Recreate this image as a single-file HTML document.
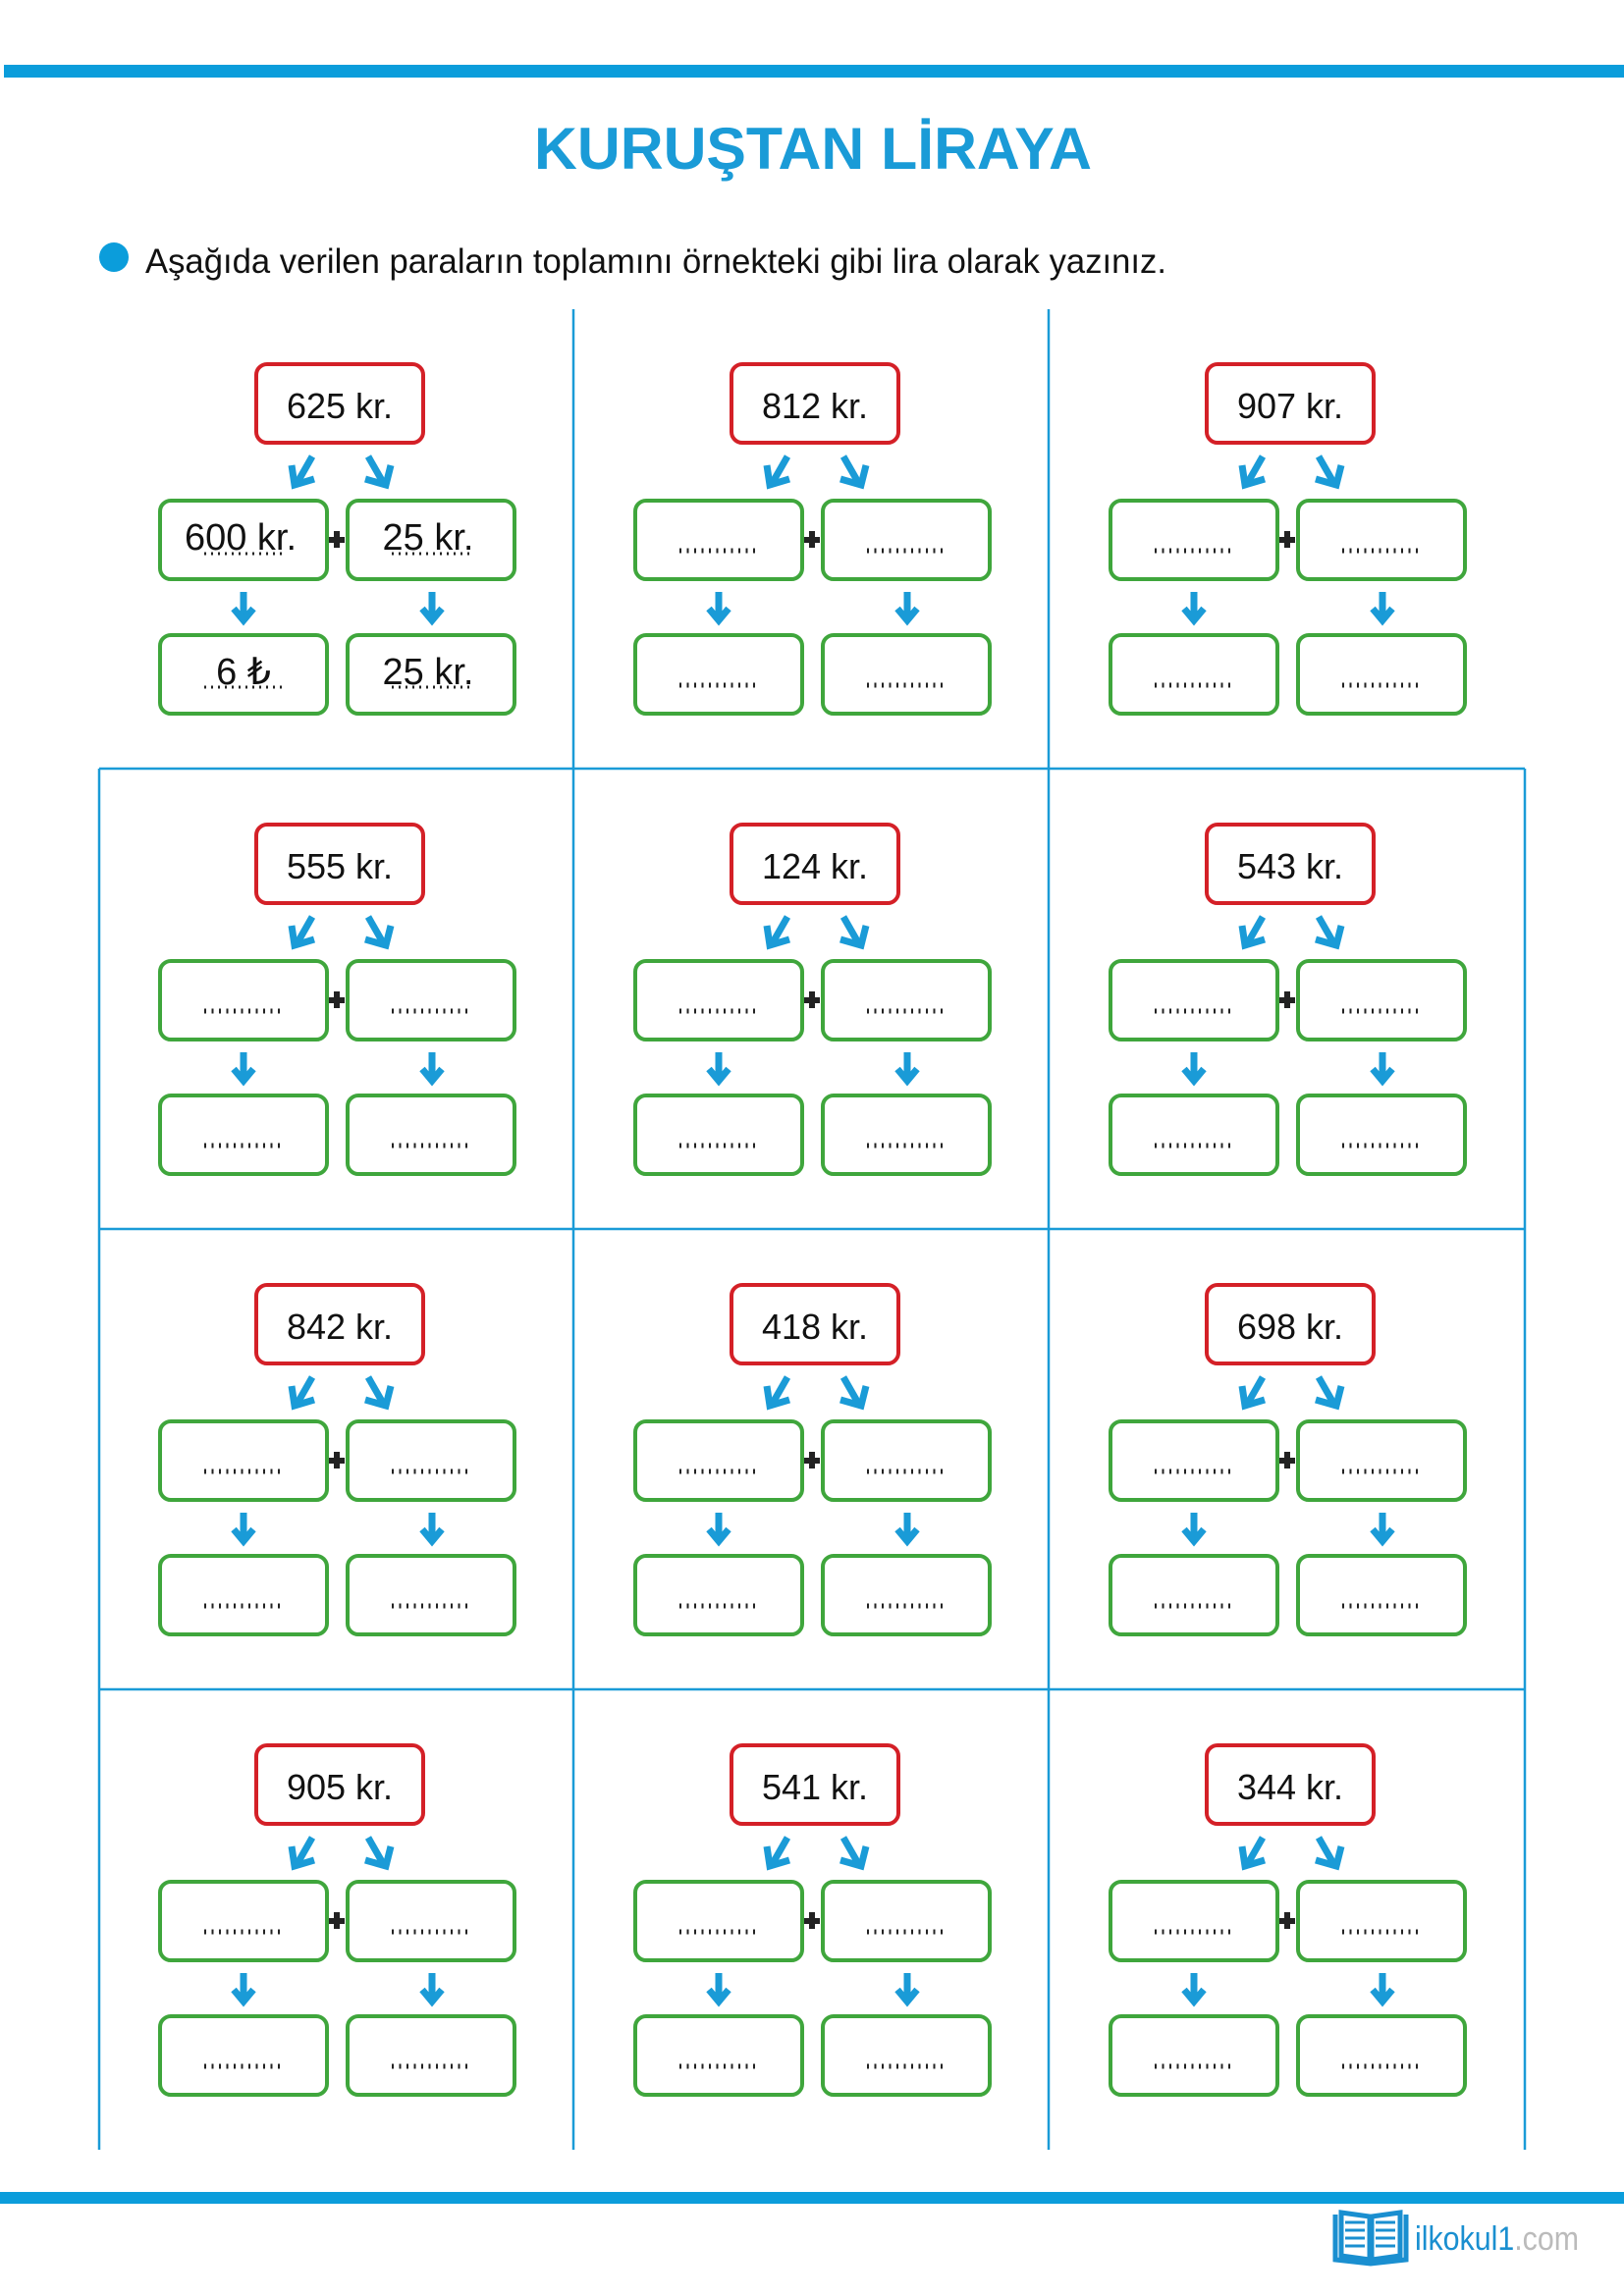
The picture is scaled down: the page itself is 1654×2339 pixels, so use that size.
<!DOCTYPE html>
<html><head><meta charset="utf-8"><style>
html,body{margin:0;padding:0;background:#fff}
svg{display:block}
text{font-family:"Liberation Sans",sans-serif}
</style></head><body>
<svg width="1654" height="2339" viewBox="0 0 1654 2339" xmlns="http://www.w3.org/2000/svg">
<defs>
<g id="base">
<rect x="261" y="371" width="170" height="80" rx="11" fill="#fff" stroke="#d42027" stroke-width="4"/>
<rect x="163" y="510" width="170" height="80" rx="11" fill="#fff" stroke="#3fa63c" stroke-width="4"/>
<rect x="354" y="510" width="170" height="80" rx="11" fill="#fff" stroke="#3fa63c" stroke-width="4"/>
<rect x="163" y="647" width="170" height="80" rx="11" fill="#fff" stroke="#3fa63c" stroke-width="4"/>
<rect x="354" y="647" width="170" height="80" rx="11" fill="#fff" stroke="#3fa63c" stroke-width="4"/>
<path d="M343 541v17M335 550h16" stroke="#222" stroke-width="6"/>
<g stroke="#1a9bd7" stroke-width="7" fill="none" stroke-linecap="butt">
<path d="M318 465L302 493"/><path d="M297 474L300 494L320 488"/>
<path d="M375 465L391 493"/><path d="M398 474L393 494L372 488"/>
<path d="M248 603V633"/><path d="M238 620L248 632L258 620"/>
<path d="M440 603V633"/><path d="M430 620L440 632L450 620"/>
</g>
</g>
<g id="dots" stroke="#222" stroke-width="5" stroke-dasharray="2 5.5">
<path d="M208 561H290M399 561H481M208 698H290M399 698H481"/>
</g>
</defs>
<rect x="4" y="66" width="1650" height="13" fill="#0b9ddb"/>
<text x="828" y="172" text-anchor="middle" font-size="60" font-weight="bold" fill="#1a9bd7" textLength="568" lengthAdjust="spacingAndGlyphs">KURUŞTAN LİRAYA</text>
<circle cx="116" cy="262" r="15" fill="#0b9ddb"/>
<text x="148" y="278" font-size="35" fill="#111" textLength="1040" lengthAdjust="spacingAndGlyphs">Aşağıda verilen paraların toplamını örnekteki gibi lira olarak yazınız.</text>
<g stroke="#1a9bd7" stroke-width="2.5">
<path d="M584 315V2190M1068 315V2190M101 783V2190M1553 783V2190M101 783H1553M101 1252H1553M101 1721H1553"/>
</g>
<use href="#base"/>
<use href="#base" transform="translate(484,0)"/>
<use href="#base" transform="translate(968,0)"/>
<use href="#base" transform="translate(0,469)"/>
<use href="#base" transform="translate(484,469)"/>
<use href="#base" transform="translate(968,469)"/>
<use href="#base" transform="translate(0,938)"/>
<use href="#base" transform="translate(484,938)"/>
<use href="#base" transform="translate(968,938)"/>
<use href="#base" transform="translate(0,1407)"/>
<use href="#base" transform="translate(484,1407)"/>
<use href="#base" transform="translate(968,1407)"/>
<use href="#dots" transform="translate(484,0)"/>
<use href="#dots" transform="translate(968,0)"/>
<use href="#dots" transform="translate(0,469)"/>
<use href="#dots" transform="translate(484,469)"/>
<use href="#dots" transform="translate(968,469)"/>
<use href="#dots" transform="translate(0,938)"/>
<use href="#dots" transform="translate(484,938)"/>
<use href="#dots" transform="translate(968,938)"/>
<use href="#dots" transform="translate(0,1407)"/>
<use href="#dots" transform="translate(484,1407)"/>
<use href="#dots" transform="translate(968,1407)"/>
<g stroke="#222" stroke-width="3" stroke-dasharray="2 5">
<path d="M208 564H290M399 564H481M208 700H290M399 700H481"/>
</g>
<g font-size="36" fill="#111" text-anchor="middle">
<text x="346" y="426">625 kr.</text>
<text x="830" y="426">812 kr.</text>
<text x="1314" y="426">907 kr.</text>
<text x="346" y="895">555 kr.</text>
<text x="830" y="895">124 kr.</text>
<text x="1314" y="895">543 kr.</text>
<text x="346" y="1364">842 kr.</text>
<text x="830" y="1364">418 kr.</text>
<text x="1314" y="1364">698 kr.</text>
<text x="346" y="1833">905 kr.</text>
<text x="830" y="1833">541 kr.</text>
<text x="1314" y="1833">344 kr.</text>
<text x="245" y="560" font-size="38">600 kr.</text>
<text x="436" y="560" font-size="38">25 kr.</text>
<text x="248" y="697" font-size="38">6 ₺</text>
<text x="436" y="697" font-size="38">25 kr.</text>
</g>
<rect x="0" y="2233" width="1654" height="12" fill="#0b9ddb"/>
<g stroke="#1a8fd0" fill="none" stroke-width="5">
<path d="M1360 2256V2302L1396 2306L1432 2302V2256"/>
<path d="M1366 2254L1395 2258V2302L1366 2298Z M1426 2254L1397 2258V2302L1426 2298Z"/>
<path d="M1370 2264H1390M1370 2272H1390M1370 2280H1390M1370 2288H1390M1401 2264H1421M1401 2272H1421M1401 2280H1421M1401 2288H1421" stroke-width="3"/>
</g>
<text x="1441" y="2292" font-size="34" fill="#1a8fd0" textLength="167" lengthAdjust="spacingAndGlyphs">ilkokul1<tspan fill="#bbb">.com</tspan></text>
</svg>
</body></html>
